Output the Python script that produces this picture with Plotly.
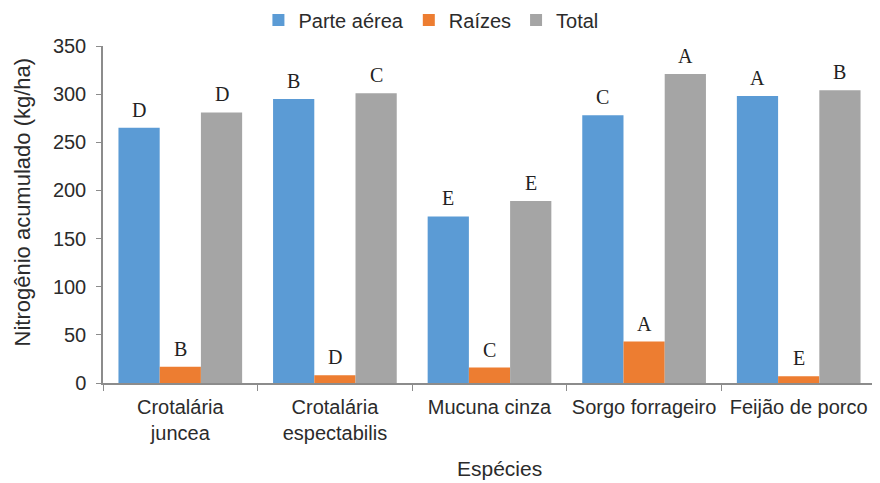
import plotly.graph_objects as go

# Data
especies = ["Crotalária<br>juncea", "Crotalária<br>espectabilis", "Mucuna cinza",
            "Sorgo forrageiro", "Feijão de porco"]
parte_aerea = [265, 295, 173, 278, 298]
raizes = [17, 8, 16, 43, 7]
total = [281, 301, 189, 321, 304]

letras_parte_aerea = ["D", "B", "E", "C", "A"]
letras_raizes = ["B", "D", "C", "A", "E"]
letras_total = ["D", "C", "E", "A", "B"]

y_ticks = [0, 50, 100, 150, 200, 250, 300, 350]

series = [
    ("Parte aérea", parte_aerea, letras_parte_aerea, "#5B9BD5"),
    ("Raízes", raizes, letras_raizes, "#ED7D31"),
    ("Total", total, letras_total, "#A5A5A5"),
]

# the page body has an 8px margin, so the figure is a bit smaller than the window
W, H = 872, 475
margin = dict(l=95, r=4, t=38, b=100)
bargap = 0.2

fig = go.Figure()
for name, vals, _, color in series:
    fig.add_trace(go.Bar(x=especies, y=vals, name=name, marker_color=color,
                         marker_line_width=0))

# letters above each bar, shifted sideways to the centre of its bar in the group
plot_w = W - margin["l"] - margin["r"]
slot = plot_w / len(especies) * (1 - bargap) / len(series)
for i, (name, vals, letras, _) in enumerate(series):
    off = (i - (len(series) - 1) / 2) * slot
    for cat, v, txt in zip(especies, vals, letras):
        fig.add_annotation(x=cat, y=v, text=txt, showarrow=False,
                           xshift=off, yshift=5, yanchor="bottom",
                           font=dict(family="Liberation Serif, Times New Roman", size=20,
                                     color="#222222"))

# axis titles as annotations so they sit where the reference has them
fig.add_annotation(text="Nitrogênio acumulado (kg/ha)", xref="paper", yref="paper",
                   x=0, y=0.5, xanchor="center", yanchor="middle", xshift=-81, yshift=12,
                   textangle=-90, showarrow=False, font=dict(size=22))
fig.add_annotation(text="Espécies", xref="paper", yref="paper", x=0.5, y=0,
                   xanchor="center", yanchor="middle", xshift=10, yshift=-85,
                   showarrow=False, font=dict(size=21))

axis_col = "#8c8c8c"
fig.update_layout(
    width=W, height=H, margin=margin,
    barmode="group", bargap=bargap, bargroupgap=0,
    plot_bgcolor="white", paper_bgcolor="white",
    font=dict(family="Liberation Sans, Arial", size=20, color="#2b2b2b"),
    legend=dict(orientation="h", xref="container", x=0.485, xanchor="center",
                yref="container", y=0.975, yanchor="middle", font=dict(size=20),
                itemwidth=30, traceorder="normal"),
    xaxis=dict(automargin=False, showline=True, linecolor=axis_col, linewidth=1.5,
               ticks="outside", tickson="boundaries", ticklen=6, tickcolor=axis_col,
               showgrid=False, tickfont=dict(size=20), ticklabelstandoff=5),
    yaxis=dict(automargin=False, range=[0, 350], tickvals=y_ticks, showline=True,
               linecolor=axis_col, linewidth=1.5, ticks="outside", ticklen=5,
               tickcolor=axis_col, showgrid=False, zeroline=False,
               tickfont=dict(size=20), ticklabelstandoff=6),
)

fig.write_html("out.html")
